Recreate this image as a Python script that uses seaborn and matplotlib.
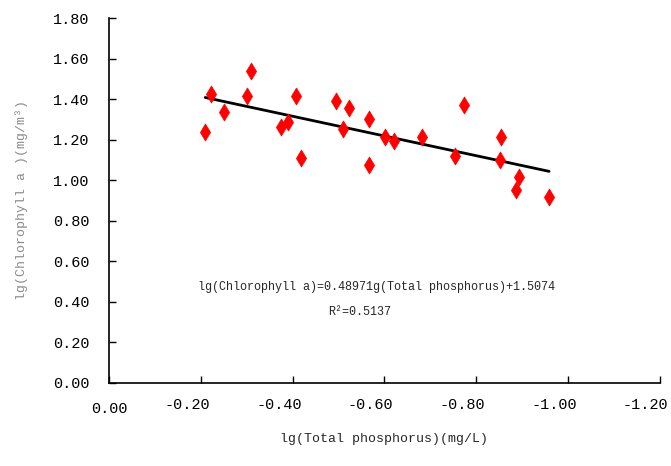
import numpy as np
import pandas as pd
import matplotlib
matplotlib.use("Agg")
import matplotlib.pyplot as plt
import matplotlib.transforms as mtrans
import seaborn as sns

# values
lg_tp = [-0.209, -0.222, -0.249, -0.300, -0.309, -0.375, -0.389, -0.408,
         -0.419, -0.494, -0.510, -0.522, -0.567, -0.567, -0.602, -0.620,
         -0.681, -0.753, -0.773, -0.855, -0.853, -0.894, -0.886, -0.959]
lg_chla = [1.237, 1.425, 1.339, 1.417, 1.540, 1.262, 1.285, 1.415,
           1.109, 1.393, 1.252, 1.354, 1.303, 1.076, 1.212, 1.194,
           1.215, 1.120, 1.369, 1.212, 1.100, 1.015, 0.952, 0.916]
x_ticks = [0.0, -0.2, -0.4, -0.6, -0.8, -1.0, -1.2]
y_ticks = [0.0, 0.2, 0.4, 0.6, 0.8, 1.0, 1.2, 1.4, 1.6, 1.8]
eq_text = "lg(Chlorophyll a)=0.48971g(Total phosphorus)+1.5074"
r2_text = "R²=0.5137"

df = pd.DataFrame({"tp": lg_tp, "chla": lg_chla})

sns.set_style("ticks")
plt.rcParams["font.family"] = ["Liberation Mono", "DejaVu Sans"]

fig = plt.figure(figsize=(6.71, 4.66), dpi=100)
ax = fig.add_axes([0.163, 0.179, 0.820, 0.782])

sns.scatterplot(data=df, x="tp", y="chla", marker="d", s=75, color="#ff0000",
                edgecolor="#ff0000", linewidth=0.5, ax=ax, zorder=3)
sns.regplot(data=df, x="tp", y="chla", scatter=False, ci=None, truncate=True,
            line_kws={"color": "black", "lw": 2.0}, ax=ax)

ax.set_xlim(0, -1.2)
ax.set_ylim(0, 1.8)
ax.set_xticks(x_ticks)
ax.set_yticks(y_ticks)
ax.set_xticklabels([f"{v:.2f}" for v in x_ticks])
ax.set_yticklabels([f"{v:.2f}" for v in y_ticks])
ax.tick_params(direction="in", length=5, width=1, labelsize=11, colors="black")
ax.tick_params(axis="x", pad=11)
ax.tick_params(axis="y", pad=14)

# Excel-style labels sit a bit left of their ticks (the zero one doesn't)
shift = mtrans.ScaledTranslation(-10 / 72, 0, fig.dpi_scale_trans)
zero_shift = mtrans.ScaledTranslation(0, -3 / 72, fig.dpi_scale_trans)
for i, lab in enumerate(ax.get_xticklabels()):
    lab.set_transform(lab.get_transform() + (zero_shift if i == 0 else shift))

for s in ["top", "right"]:
    ax.spines[s].set_visible(False)
for s in ["left", "bottom"]:
    ax.spines[s].set_linewidth(1.2)
    ax.spines[s].set_color("black")

ax.set_xlabel("lg(Total phosphorus)(mg/L)", fontsize=9.5, labelpad=12)
ax.set_ylabel("lg(Chlorophyll a )(mg/m³)", fontsize=9.5, color="#8a8a8a", labelpad=18)

ax.text(-0.582, 0.473, eq_text, fontsize=8.5, ha="center", va="center")
ax.text(-0.545, 0.351, r2_text, fontsize=8.5, ha="center", va="center")

fig.savefig("out.png", dpi=100)
